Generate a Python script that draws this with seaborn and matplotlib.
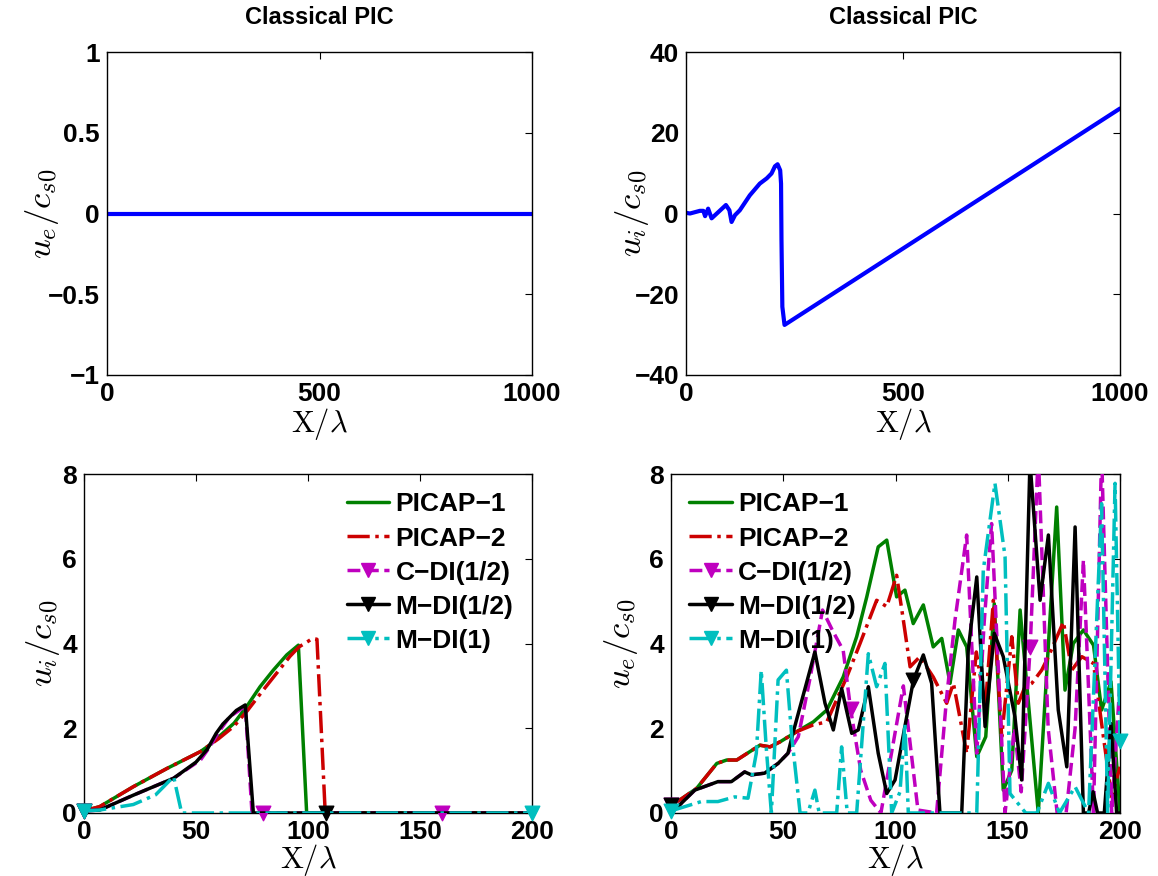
import numpy as np
import matplotlib
matplotlib.use("Agg")
import matplotlib.pyplot as plt
from matplotlib.lines import Line2D
import seaborn as sns

# ---------------- data ----------------
# top-left: electron velocity, classical PIC
tl_x = [0, 1000]
tl_y = [0, 0]

# top-right: ion velocity, classical PIC
tr_x = [0, 9.2, 32, 40, 44, 51, 59, 71, 92, 100, 105, 113, 124, 147, 170, 186,
        197, 205, 211, 217, 219, 220, 222, 227, 1000]
tr_y = [0.17, 0, 0.66, 0.66, -0.66, 1.2, -1.2, 0, 2.1, 0.8, -2.1, -0.4, 0.8, 4.5,
        7.4, 8.7, 9.9, 11.7, 12.2, 10.7, 7.4, -6.6, -23.1, -27.6, 26.0]

# bottom-left: ion velocity
bl_p1_x = [0, 7, 22, 37, 52, 56, 67, 72.6, 78.6, 84.5, 90.5, 95.7, 99.4, 200]
bl_p1_y = [0.05, 0.15, 0.62, 1.05, 1.45, 1.6, 2.12, 2.51, 2.98, 3.37, 3.73, 3.96, 0, 0]
bl_p2_x = [0, 7, 22, 37, 52, 60, 67, 73, 80, 86, 92, 96, 100, 102, 104, 107.6, 108, 200]
bl_p2_y = [0.05, 0.15, 0.62, 1.05, 1.45, 1.75, 2.05, 2.42, 2.9, 3.3, 3.7, 3.92, 4.05,
           4.12, 4.1, 0.1, 0, 0]
bl_cdi_x = [0, 7, 22, 40, 52, 56, 60, 65, 72, 75, 80, 160, 200]
bl_cdi_y = [0.05, 0.07, 0.42, 0.82, 1.25, 1.55, 1.9, 2.27, 2.52, 0, 0, 0, 0]
bl_mdi_x = [0, 7, 22, 40, 50, 55, 59, 62, 65.2, 68, 72, 75.6, 108, 200]
bl_mdi_y = [0.05, 0.07, 0.42, 0.82, 1.2, 1.5, 1.88, 2.1, 2.27, 2.42, 2.55, 0, 0, 0]
bl_md1_x = [0, 7, 22, 32, 40, 43.6, 200]
bl_md1_y = [0.05, 0.07, 0.2, 0.43, 0.86, 0, 0]

# bottom-right: electron velocity
br_p1_x = [0, 4, 11.4, 20.4, 24.8, 29.3, 39.6, 44.1, 48.6, 56, 63.4, 69.4, 76.7, 82.7,
           87.2, 92.3, 96.1, 100.5, 104.2, 107.9, 112.4, 116.8, 120.6, 124.3, 128,
           131.7, 136.2, 140.2, 144, 148, 151.8, 155.5, 163.6, 171.8, 175.5, 179.2,
           183.7, 188.2, 191.8, 196, 200]
br_p1_y = [0.2, 0.31, 0.58, 1.17, 1.25, 1.25, 1.6, 1.56, 1.68, 1.92, 2.15, 2.43, 3.21,
           4.16, 5.1, 6.28, 6.44, 5.1, 5.26, 4.47, 4.91, 3.92, 4.12, 3.06, 4.32, 3.92,
           1.33, 1.8, 4.94, 0.54, 1.01, 4.79, 0, 7.22, 2.9, 4.0, 4.32, 3.96, 2.43,
           3.1, 0]
br_p2_x = [0, 4, 11.4, 20.4, 24.8, 29.3, 39.6, 44.1, 48.6, 56, 63.4, 69.4, 78.3, 84.2,
           91.6, 96.1, 100.5, 103.5, 106.5, 110.9, 116.8, 122.8, 125.8, 131.7, 136,
           140, 143.6, 147.3, 151.8, 154.7, 157.7, 160.7, 165.1, 168.1, 174.8, 178.5,
           183, 188.2, 192.6, 196.3, 200]
br_p2_y = [0.2, 0.31, 0.58, 1.17, 1.25, 1.25, 1.6, 1.56, 1.68, 1.92, 2.08, 2.15, 3.21,
           4.0, 5.02, 4.87, 5.61, 4.55, 3.45, 3.69, 3.21, 2.59, 3.06, 1.41, 3.8, 2.5,
           5.02, 1.8, 4.16, 2.59, 2.98, 3.06, 3.37, 3.69, 4.51, 3.37, 3.69, 3.53, 1.8,
           0.38, 1.09]
br_cdi_x = [0, 3, 10.6, 20.9, 26.9, 32.8, 35.8, 41.7, 47.7, 52.1, 56.7, 62, 67.5, 72,
            76.7, 80, 84.5, 89, 93.5, 103.5, 110, 118.3, 122.8, 126.5, 131.7, 136.2,
            139.5, 142.8, 148.8, 153, 156, 160, 163.6, 168, 172, 176, 180, 183.7,
            188.2, 191.8, 196.3, 200]
br_cdi_y = [0.2, 0.15, 0.54, 0.74, 0.74, 0.97, 0.9, 0.94, 1.17, 1.41, 1.8, 3.2, 4.79,
            4.3, 3.84, 2.45, 1.01, 0.3, 0, 3.0, 0.07, 0, 2.74, 4.55, 6.56, 1.41, 4.5,
            6.83, 0, 2.0, 0.5, 3.92, 8.5, 2.0, 0, 0, 2.0, 5.97, 0, 8.5, 0, 3.1]
br_mdi_x = [0, 3.1, 10.6, 20.9, 26.9, 32.8, 35.8, 41.7, 47.7, 52.1, 54.3, 64.1, 68.6,
            72.3, 76, 80.5, 83.4, 87.9, 92.3, 96.1, 99.8, 108, 112.4, 116.1, 119.8,
            129.5, 132.4, 136.2, 139.9, 144, 148, 153.2, 156.2, 159.9, 164.4, 168.1,
            172.5, 176.3, 180, 183.7, 186, 188, 190, 193, 196, 198.5, 200]
br_mdi_y = [0.2, 0.15, 0.54, 0.74, 0.74, 0.97, 0.9, 0.94, 1.17, 1.41, 1.88, 3.8, 2.59,
            1.96, 2.94, 1.88, 1.96, 2.98, 1.41, 0.46, 0.78, 3.14, 3.73, 3.06, 0, 0,
            3.84, 5.57, 2.04, 4.24, 3.69, 2.27, 0.78, 8.3, 5.02, 6.56, 2.43, 1.09, 6.75,
            0, 0, 0.5, 0, 0, 2.11, 0, 0]
br_md1_x = [0, 13.5, 20.9, 28.4, 34.3, 38, 40.2, 42.4, 44.7, 47.7, 51.4, 53.8, 57.5,
            61, 64.1, 66, 73.8, 76, 78.5, 82.7, 87.9, 91.6, 95.3, 98.3, 102, 104.2,
            105.7, 115, 125, 136.2, 139.1, 144.3, 148.8, 151, 158, 163, 168.1, 173,
            180, 186, 191.8, 194.5, 197.8, 200]
br_md1_y = [0.05, 0.27, 0.27, 0.38, 0.35, 1.41, 3.37, 1.56, 0, 3.14, 3.37, 1.8, 0, 0,
            0.54, 0, 0, 1.56, 0, 0, 3.76, 2.98, 3.53, 0, 0.5, 2.11, 0, 0, 0, 0, 5.73,
            7.78, 6.05, 0.46, 0, 0, 0.7, 0, 0.62, 0, 7.3, 0, 7.78, 1.7]

# marker positions (x values in data where a triangle is drawn)
cdi_marks = [0, 80, 160]
mdi_marks = [0, 108]
md1_marks = [0, 200]

series_labels = ["PICAP\u22121", "PICAP\u22122", "C\u2212DI(1/2)", "M\u2212DI(1/2)", "M\u2212DI(1)"]
top_title = "Classical PIC"
tl_yticks = [-1, -0.5, 0, 0.5, 1]
tl_yticklabels = ["\u22121", "\u22120.5", "0", "0.5", "1"]
tr_yticks = [-40, -20, 0, 20, 40]
top_xticks = [0, 500, 1000]
bot_xticks = [0, 50, 100, 150, 200]
bot_yticks = [0, 2, 4, 6, 8]

# ---------------- style ----------------
sns.set_theme(style="white")
plt.rcParams["font.family"] = ["Liberation Sans", "DejaVu Sans"]
plt.rcParams["font.weight"] = "bold"
plt.rcParams["mathtext.fontset"] = "cm"
plt.rcParams["axes.edgecolor"] = "black"
plt.rcParams["axes.linewidth"] = 1.0
plt.rcParams["text.color"] = "black"
plt.rcParams["axes.labelcolor"] = "black"
plt.rcParams["axes.titlecolor"] = "black"
plt.rcParams["xtick.color"] = "black"
plt.rcParams["ytick.color"] = "black"

C_GREEN = "#008000"
C_RED = "#cc0000"
C_MAG = "#bf00bf"
C_BLACK = "#000000"
C_CYAN = "#00bfbf"
C_BLUE = "#0000ff"

TICK_FS = 19
XLAB_FS = 22
YLAB_FS = 25

fig = plt.figure(figsize=(11.58, 8.76), dpi=100)
ax_tl = fig.add_axes([107 / 1158, 1 - 375 / 876, 425 / 1158, 323 / 876])
ax_tr = fig.add_axes([686 / 1158, 1 - 375 / 876, 434 / 1158, 323 / 876])
ax_bl = fig.add_axes([84 / 1158, 1 - 813 / 876, 448 / 1158, 339 / 876])
ax_br = fig.add_axes([671 / 1158, 1 - 813 / 876, 449 / 1158, 339 / 876])


def style_axes(ax):
    ax.tick_params(direction="in", length=5, width=0.8, top=True, right=True,
                   labelsize=TICK_FS, pad=5, colors="black")
    for lab in ax.get_xticklabels() + ax.get_yticklabels():
        lab.set_fontweight("bold")
    for s in ax.spines.values():
        s.set_visible(True)
        s.set_color("black")
        s.set_linewidth(1.0)


def line(ax, x, y, color, ls="-", lw=2.5, marks=None, z=2):
    x = np.asarray(x, dtype=float)
    y = np.asarray(y, dtype=float)
    sns.lineplot(x=x, y=y, ax=ax, color=color, linestyle=ls, linewidth=lw,
                 estimator=None, sort=False, legend=False, zorder=z)
    if marks is not None:
        idx = [int(np.argmin(np.abs(x - m))) for m in marks]
        sns.scatterplot(x=x[idx], y=y[idx], ax=ax, color=color, marker="v", s=110,
                        edgecolor=color, linewidth=1, legend=False, zorder=z + 0.5,
                        clip_on=False)


# ---- top-left
line(ax_tl, tl_x, tl_y, C_BLUE, lw=3)
ax_tl.set_xlim(0, 1000)
ax_tl.set_ylim(-1, 1)
ax_tl.set_xticks(top_xticks)
ax_tl.set_yticks(tl_yticks)
ax_tl.set_yticklabels(tl_yticklabels)
ax_tl.set_title(top_title, fontsize=17, fontweight="bold", pad=20)
ax_tl.set_ylabel(r"$u_e/c_{s0}$", fontsize=YLAB_FS)
ax_tl.set_xlabel(r"$\mathrm{X}/\lambda$", fontsize=XLAB_FS)
ax_tl.yaxis.set_label_coords(-0.108, 0.5)
ax_tl.xaxis.set_label_coords(0.5, -0.095)

# ---- top-right
line(ax_tr, tr_x, tr_y, C_BLUE, lw=3)
ax_tr.set_xlim(0, 1000)
ax_tr.set_ylim(-40, 40)
ax_tr.set_xticks(top_xticks)
ax_tr.set_yticks(tr_yticks)
ax_tr.set_title(top_title, fontsize=17, fontweight="bold", pad=20)
ax_tr.set_ylabel(r"$u_i/c_{s0}$", fontsize=YLAB_FS)
ax_tr.set_xlabel(r"$\mathrm{X}/\lambda$", fontsize=XLAB_FS)
ax_tr.yaxis.set_label_coords(-0.08, 0.5)
ax_tr.xaxis.set_label_coords(0.5, -0.095)

# ---- bottom panels
styles = [
    (C_GREEN, "-", None),
    (C_RED, "-.", None),
    (C_MAG, "--", cdi_marks),
    (C_BLACK, "-", mdi_marks),
    (C_CYAN, "-.", md1_marks),
]
bl_data = [(bl_p1_x, bl_p1_y), (bl_p2_x, bl_p2_y), (bl_cdi_x, bl_cdi_y),
           (bl_mdi_x, bl_mdi_y), (bl_md1_x, bl_md1_y)]
br_data = [(br_p1_x, br_p1_y), (br_p2_x, br_p2_y), (br_cdi_x, br_cdi_y),
           (br_mdi_x, br_mdi_y), (br_md1_x, br_md1_y)]

for ax, data in ((ax_bl, bl_data), (ax_br, br_data)):
    for k, ((x, y), (c, ls, mk)) in enumerate(zip(data, styles)):
        line(ax, x, y, c, ls=ls, lw=2.5, marks=mk, z=2 + k)
    ax.set_xlim(0, 200)
    ax.set_ylim(0, 8)
    ax.set_xticks(bot_xticks)
    ax.set_yticks(bot_yticks)
    ax.set_xlabel(r"$\mathrm{X}/\lambda$", fontsize=XLAB_FS)
    ax.xaxis.set_label_coords(0.5, -0.085)

ax_bl.set_ylabel(r"$u_i/c_{s0}$", fontsize=YLAB_FS)
ax_bl.yaxis.set_label_coords(-0.05, 0.5)
ax_br.set_ylabel(r"$u_e/c_{s0}$", fontsize=YLAB_FS)
ax_br.yaxis.set_label_coords(-0.07, 0.5)

handles = []
for lab, (c, ls, mk) in zip(series_labels, styles):
    handles.append(Line2D([], [], color=c, linestyle=ls, linewidth=2.5,
                          marker="v" if mk is not None else None,
                          markersize=10, markerfacecolor=c, markeredgecolor=c,
                          label=lab))

leg_kw = dict(frameon=False, fontsize=19, handlelength=1.6, handletextpad=0.25,
              labelspacing=0.38, borderaxespad=0.3)
ax_bl.legend(handles=handles, loc="upper right", **leg_kw)
ax_br.legend(handles=handles, loc="upper left", **leg_kw)
for ax in (ax_bl, ax_br):
    for t in ax.get_legend().get_texts():
        t.set_fontweight("bold")

for ax in (ax_tl, ax_tr, ax_bl, ax_br):
    style_axes(ax)

fig.savefig("out.png", dpi=100)
